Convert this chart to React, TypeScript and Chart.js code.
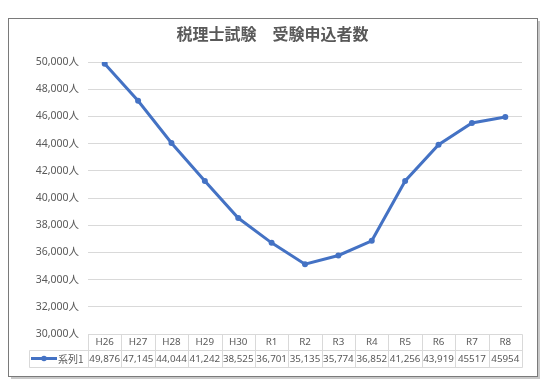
import React, { useEffect, useRef } from "react";
import { Chart, registerables } from "chart.js";

Chart.register(...registerables);

const TITLE = "税理士試験　受験申込者数";
const SERIES_NAME = "系列1";
const categories = ["H26", "H27", "H28", "H29", "H30", "R1", "R2", "R3", "R4", "R5", "R6", "R7", "R8"];
const values = [49876, 47145, 44044, 41242, 38525, 36701, 35135, 35774, 36852, 41256, 43919, 45517, 45954];
const tableLabels = ["49,876", "47,145", "44,044", "41,242", "38,525", "36,701", "35,135", "35,774", "36,852", "41,256", "43,919", "45517", "45954"];
const Y_MIN = 30000;
const Y_MAX = 50000;
const Y_STEP = 2000;

const FONT = "'Noto Sans CJK JP', 'Noto Sans', sans-serif";
const NUMFONT = "'Noto Sans', 'Noto Sans CJK JP', sans-serif";
const TEXT = "#595959";
const GRID = "#d9d9d9";
const LINE = "#4472C4";

const framePlugin = {
  id: "frame",
  beforeDraw(chart: any) {
    const ctx = chart.ctx;
    ctx.save();
    ctx.fillStyle = "#ffffff";
    ctx.fillRect(0, 0, chart.width, chart.height);
    ctx.strokeStyle = "#c8c8c8";
    ctx.lineWidth = 2;
    ctx.beginPath();
    ctx.moveTo(539, 21);
    ctx.lineTo(539, 378);
    ctx.lineTo(11, 378);
    ctx.stroke();
    ctx.strokeStyle = "#7a7a7a";
    ctx.lineWidth = 1;
    ctx.strokeRect(8.5, 18.5, 529, 358);
    ctx.fillStyle = TEXT;
    ctx.font = `bold 16px ${FONT}`;
    ctx.textAlign = "center";
    ctx.textBaseline = "middle";
    ctx.fillText(TITLE, 272.5, 34);
    ctx.restore();
  },
};

const tablePlugin = {
  id: "dataTable",
  afterDraw(chart: any) {
    const ctx = chart.ctx;
    const area = chart.chartArea;
    const x = chart.scales.x;
    const n = categories.length;
    const colW = (area.right - area.left) / n;
    const top = area.bottom;
    const mid = top + 16;
    const bot = top + 33;
    const legLeft = 29;
    ctx.save();
    ctx.strokeStyle = GRID;
    ctx.lineWidth = 1;
    ctx.beginPath();
    const L = Math.round(area.left) + 0.5;
    const R = Math.round(area.right) + 0.5;
    ctx.moveTo(L, Math.round(top) + 0.5);
    ctx.lineTo(R, Math.round(top) + 0.5);
    ctx.moveTo(legLeft + 0.5, Math.round(mid) + 0.5);
    ctx.lineTo(R, Math.round(mid) + 0.5);
    ctx.moveTo(legLeft + 0.5, Math.round(bot) + 0.5);
    ctx.lineTo(R, Math.round(bot) + 0.5);
    ctx.moveTo(legLeft + 0.5, Math.round(mid) + 0.5);
    ctx.lineTo(legLeft + 0.5, Math.round(bot) + 0.5);
    for (let i = 0; i <= n; i++) {
      const xx = Math.round(area.left + i * colW) + 0.5;
      ctx.moveTo(xx, Math.round(top) + 0.5);
      ctx.lineTo(xx, Math.round(bot) + 0.5);
    }
    ctx.stroke();

    ctx.fillStyle = TEXT;
    ctx.font = `9.8px ${NUMFONT}`;
    ctx.textAlign = "center";
    ctx.textBaseline = "middle";
    for (let i = 0; i < n; i++) {
      const cx = x.getPixelForValue(i);
      ctx.fillText(categories[i], cx, (top + mid) / 2 + 0.5);
      ctx.fillText(tableLabels[i], cx, (mid + bot) / 2 + 0.5);
    }
    const ly = (mid + bot) / 2;
    ctx.strokeStyle = LINE;
    ctx.lineWidth = 3;
    ctx.beginPath();
    ctx.moveTo(31, ly);
    ctx.lineTo(57, ly);
    ctx.stroke();
    ctx.fillStyle = LINE;
    ctx.beginPath();
    ctx.arc(44, ly, 2.8, 0, Math.PI * 2);
    ctx.fill();
    ctx.fillStyle = TEXT;
    ctx.textAlign = "left";
    ctx.font = `10px ${FONT}`;
    ctx.fillText(SERIES_NAME, 58, ly + 0.5);
    ctx.restore();
  },
};

export default function App() {
  const ref = useRef<HTMLCanvasElement>(null);
  useEffect(() => {
    if (!ref.current) return;
    const chart = new Chart(ref.current, {
      type: "line",
      data: {
        labels: categories,
        datasets: [
          {
            label: SERIES_NAME,
            data: values,
            borderColor: LINE,
            backgroundColor: LINE,
            borderWidth: 3,
            pointRadius: 3,
            pointBackgroundColor: LINE,
            pointBorderColor: LINE,
            pointBorderWidth: 0,
            tension: 0,
          },
        ],
      },
      options: {
        responsive: false,
        animation: false,
        layout: { padding: { top: 62, right: 23, bottom: 48, left: 0 } },
        plugins: { legend: { display: false }, title: { display: false }, tooltip: { enabled: false } },
        scales: {
          x: { display: false, offset: true, type: "category" },
          y: {
            min: Y_MIN,
            max: Y_MAX,
            border: { display: false },
            grid: { color: GRID, drawTicks: false, lineWidth: 1 },
            ticks: {
              stepSize: Y_STEP,
              padding: 9,
              color: TEXT,
              font: { family: NUMFONT, size: 10.5 },
              callback: (v: any) => Number(v).toLocaleString("en-US") + "人",
            },
            afterFit: (s: any) => {
              s.width = 88;
            },
          },
        },
      },
      plugins: [framePlugin, tablePlugin],
    });
    return () => chart.destroy();
  }, []);
  return (
    <canvas
      ref={ref}
      width={545}
      height={382}
      style={{ position: "fixed", left: 0, top: 0, width: 545, height: 382 }}
    />
  );
}
